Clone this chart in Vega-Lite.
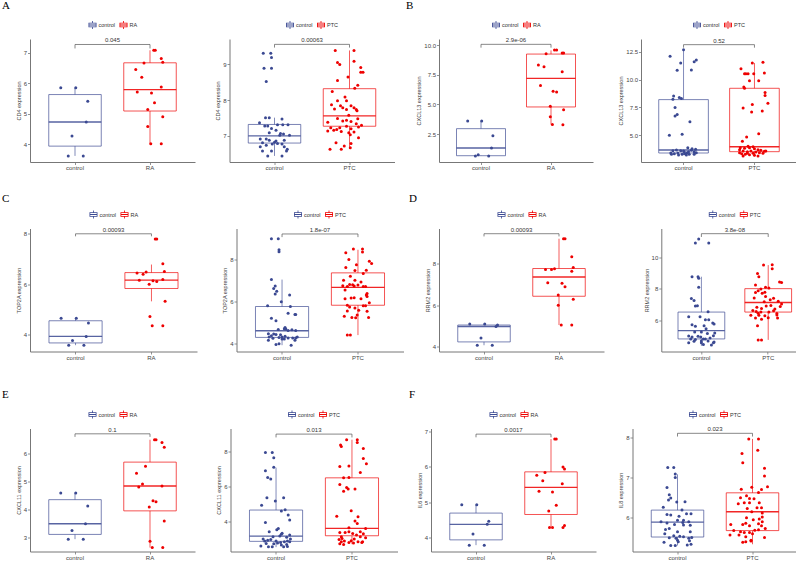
{
"$schema":"https://vega.github.io/schema/vega-lite/v6.json",
"padding":{"left":2,"top":0,"right":0,"bottom":0},
"config":{
 "view":{"stroke":null},
 "font":"Liberation Sans",
 "rule":{"strokeOpacity":0.8},
 "bar":{"strokeOpacity":0.85},
 "axis":{"domainColor":"#777","domainWidth":1,"tickColor":"#777","tickSize":2.5,"tickWidth":0.8,"labelFontSize":6,"labelColor":"#444","titleFontSize":5.5,"titleFontWeight":"normal","titleColor":"#444","grid":false,"labelPadding":1,"titlePadding":2},
 "axisX":{"labelPadding":0},
 "legend":{"title":null,"orient":"none","legendY":-18,"direction":"horizontal","symbolType":"M-1,-0.55H1V0.55H-1Z M-0.8,-0.35V0.35H0.8V-0.35Z M-0.8,-0.1H0.8V0.1H-0.8Z M-0.1,-1H0.1V-0.55H-0.1Z M-0.1,0.55H0.1V1H-0.1Z","symbolSize":64,"symbolStrokeWidth":0,"labelFontSize":5.5,"labelColor":"#333","labelOffset":2,"columnPadding":4,"padding":0},
 "title":{"font":"Liberation Serif","fontSize":11,"fontWeight":"normal","anchor":"start","color":"black","frame":"group","baseline":"bottom"}
},
"datasets":{
"box":[
{"p":"A1","g":"control","lo":3.62,"q1":3.94,"med":4.73,"q3":5.63,"hi":5.85},
{"p":"A1","g":"RA","lo":4.02,"q1":5.09,"med":5.79,"q3":6.67,"hi":7.08},
{"p":"A2","g":"control","lo":6.44,"q1":6.80,"med":7.00,"q3":7.32,"hi":7.51},
{"p":"A2","g":"PTC","lo":6.67,"q1":7.27,"med":7.56,"q3":8.32,"hi":9.39},
{"p":"B1","g":"control","lo":0.65,"q1":0.67,"med":1.32,"q3":2.95,"hi":3.6},
{"p":"B1","g":"RA","lo":3.31,"q1":4.78,"med":7.19,"q3":9.24,"hi":9.55},
{"p":"B2","g":"control","lo":3.22,"q1":3.40,"med":3.67,"q3":8.21,"hi":12.71},
{"p":"B2","g":"PTC","lo":3.10,"q1":3.52,"med":3.97,"q3":9.23,"hi":11.51},
{"p":"C1","g":"control","lo":3.58,"q1":3.67,"med":3.93,"q3":4.55,"hi":4.65},
{"p":"C1","g":"RA","lo":5.32,"q1":5.83,"med":6.16,"q3":6.46,"hi":6.78},
{"p":"C2","g":"control","lo":3.91,"q1":4.28,"med":4.60,"q3":5.75,"hi":7.03},
{"p":"C2","g":"PTC","lo":4.39,"q1":5.81,"med":6.66,"q3":7.35,"hi":8.45},
{"p":"D1","g":"control","lo":4.08,"q1":4.24,"med":4.98,"q3":5.05,"hi":5.10},
{"p":"D1","g":"RA","lo":5.05,"q1":6.43,"med":7.35,"q3":7.76,"hi":9.19},
{"p":"D2","g":"control","lo":4.38,"q1":4.82,"med":5.35,"q3":6.53,"hi":8.78},
{"p":"D2","g":"PTC","lo":4.76,"q1":6.53,"med":7.14,"q3":8.02,"hi":9.52},
{"p":"E1","g":"control","lo":2.95,"q1":3.12,"med":3.50,"q3":4.36,"hi":4.6},
{"p":"E1","g":"RA","lo":2.65,"q1":3.96,"med":4.85,"q3":5.70,"hi":6.5},
{"p":"E2","g":"control","lo":2.55,"q1":2.88,"med":3.18,"q3":4.67,"hi":7.09},
{"p":"E2","g":"PTC","lo":2.72,"q1":3.20,"med":3.62,"q3":6.51,"hi":8.69},
{"p":"F1","g":"control","lo":3.78,"q1":3.93,"med":4.37,"q3":4.69,"hi":4.93},
{"p":"F1","g":"RA","lo":4.28,"q1":4.65,"med":5.42,"q3":5.86,"hi":6.79},
{"p":"F2","g":"control","lo":5.31,"q1":5.52,"med":5.89,"q3":6.19,"hi":7.08},
{"p":"F2","g":"PTC","lo":5.34,"q1":5.68,"med":6.15,"q3":6.62,"hi":7.96}
],
"brk":[
{"p":"A1","g":"control","v":7.14,"o":1},{"p":"A1","g":"control","v":7.27,"o":2},{"p":"A1","g":"RA","v":7.27,"o":3},{"p":"A1","g":"RA","v":7.14,"o":4},
{"p":"A2","g":"control","v":9.47,"o":1},{"p":"A2","g":"control","v":9.56,"o":2},{"p":"A2","g":"PTC","v":9.56,"o":3},{"p":"A2","g":"PTC","v":9.47,"o":4},
{"p":"B1","g":"control","v":9.78,"o":1},{"p":"B1","g":"control","v":10.06,"o":2},{"p":"B1","g":"RA","v":10.06,"o":3},{"p":"B1","g":"RA","v":9.78,"o":4},
{"p":"B2","g":"control","v":12.89,"o":1},{"p":"B2","g":"control","v":13.16,"o":2},{"p":"B2","g":"PTC","v":13.16,"o":3},{"p":"B2","g":"PTC","v":12.89,"o":4},
{"p":"C1","g":"control","v":7.90,"o":1},{"p":"C1","g":"control","v":8.0,"o":2},{"p":"C1","g":"RA","v":8.0,"o":3},{"p":"C1","g":"RA","v":7.90,"o":4},
{"p":"C2","g":"control","v":9.05,"o":1},{"p":"C2","g":"control","v":9.20,"o":2},{"p":"C2","g":"PTC","v":9.20,"o":3},{"p":"C2","g":"PTC","v":9.05,"o":4},
{"p":"D1","g":"control","v":9.30,"o":1},{"p":"D1","g":"control","v":9.43,"o":2},{"p":"D1","g":"RA","v":9.43,"o":3},{"p":"D1","g":"RA","v":9.30,"o":4},
{"p":"D2","g":"control","v":11.31,"o":1},{"p":"D2","g":"control","v":11.52,"o":2},{"p":"D2","g":"PTC","v":11.52,"o":3},{"p":"D2","g":"PTC","v":11.31,"o":4},
{"p":"E1","g":"control","v":6.60,"o":1},{"p":"E1","g":"control","v":6.71,"o":2},{"p":"E1","g":"RA","v":6.71,"o":3},{"p":"E1","g":"RA","v":6.60,"o":4},
{"p":"E2","g":"control","v":8.82,"o":1},{"p":"E2","g":"control","v":9.01,"o":2},{"p":"E2","g":"PTC","v":9.01,"o":3},{"p":"E2","g":"PTC","v":8.82,"o":4},
{"p":"F1","g":"control","v":6.84,"o":1},{"p":"F1","g":"control","v":6.93,"o":2},{"p":"F1","g":"RA","v":6.93,"o":3},{"p":"F1","g":"RA","v":6.84,"o":4},
{"p":"F2","g":"control","v":8.02,"o":1},{"p":"F2","g":"control","v":8.10,"o":2},{"p":"F2","g":"PTC","v":8.10,"o":3},{"p":"F2","g":"PTC","v":8.02,"o":4}
],
"lab":[
{"p":"A1","g":"control","v":7.27,"t":"0.045"},
{"p":"A2","g":"control","v":9.56,"t":"0.00063"},
{"p":"B1","g":"control","v":10.06,"t":"2.9e-06"},
{"p":"B2","g":"control","v":13.16,"t":"0.52"},
{"p":"C1","g":"control","v":8.0,"t":"0.00093"},
{"p":"C2","g":"control","v":9.20,"t":"1.8e-07"},
{"p":"D1","g":"control","v":9.43,"t":"0.00093"},
{"p":"D2","g":"control","v":11.52,"t":"3.8e-08"},
{"p":"E1","g":"control","v":6.71,"t":"0.1"},
{"p":"E2","g":"control","v":9.01,"t":"0.013"},
{"p":"F1","g":"control","v":6.93,"t":"0.0017"},
{"p":"F2","g":"control","v":8.10,"t":"0.023"}
],
"A1":[
{"g":"control","v":5.85,"j":-0.19},{"g":"control","v":5.85,"j":0.01},{"g":"control","v":5.41,"j":0.17},{"g":"control","v":4.73,"j":0.15},{"g":"control","v":4.27,"j":-0.04},{"g":"control","v":3.62,"j":-0.09},{"g":"control","v":3.62,"j":0.11},
{"g":"RA","v":7.08,"j":0.05},{"g":"RA","v":7.08,"j":0.07},{"g":"RA","v":6.81,"j":0.15},{"g":"RA","v":6.69,"j":0.17},{"g":"RA","v":6.66,"j":-0.08},{"g":"RA","v":6.45,"j":-0.19},{"g":"RA","v":6.20,"j":-0.11},{"g":"RA","v":5.88,"j":0.15},{"g":"RA","v":5.71,"j":-0.17},{"g":"RA","v":5.68,"j":0.02},{"g":"RA","v":5.36,"j":0.06},{"g":"RA","v":5.14,"j":-0.03},{"g":"RA","v":4.90,"j":0.17},{"g":"RA","v":4.58,"j":-0.03},{"g":"RA","v":4.02,"j":0.01},{"g":"RA","v":4.02,"j":0.15}
],
"A2":[
{"g":"control","v":9.31,"j":-0.15},{"g":"control","v":9.31,"j":-0.05},{"g":"control","v":9.19,"j":-0.04},{"g":"control","v":8.89,"j":-0.14},{"g":"control","v":8.89,"j":-0.04},{"g":"control","v":8.52,"j":-0.11},{"g":"control","v":7.51,"j":-0.12},{"g":"control","v":7.51,"j":-0.07},{"g":"control","v":7.47,"j":0.10},{"g":"control","v":7.37,"j":-0.20},{"g":"control","v":7.28,"j":-0.13},{"g":"control","v":7.28,"j":-0.09},{"g":"control","v":7.31,"j":0.04},{"g":"control","v":7.31,"j":0.11},{"g":"control","v":7.31,"j":0.18},{"g":"control","v":7.21,"j":-0.04},{"g":"control","v":7.16,"j":0.02},{"g":"control","v":7.09,"j":-0.07},{"g":"control","v":7.07,"j":0.08},{"g":"control","v":7.02,"j":0.07},{"g":"control","v":7.02,"j":0.20},{"g":"control","v":6.91,"j":-0.19},{"g":"control","v":6.91,"j":-0.11},{"g":"control","v":6.88,"j":-0.07},{"g":"control","v":6.88,"j":0.13},{"g":"control","v":6.81,"j":-0.16},{"g":"control","v":6.82,"j":0.0},{"g":"control","v":6.79,"j":0.04},{"g":"control","v":6.77,"j":-0.03},{"g":"control","v":6.77,"j":0.10},{"g":"control","v":6.74,"j":-0.11},{"g":"control","v":6.70,"j":0.13},{"g":"control","v":6.70,"j":-0.19},{"g":"control","v":6.63,"j":0.17},{"g":"control","v":6.58,"j":0.16},{"g":"control","v":6.58,"j":-0.04},{"g":"control","v":6.58,"j":-0.16},{"g":"control","v":6.44,"j":0.10},{"g":"control","v":6.44,"j":-0.09},{"g":"control","v":6.86,"j":0.02},{"g":"control","v":7.05,"j":0.12},
{"g":"PTC","v":9.39,"j":-0.19},{"g":"PTC","v":9.39,"j":0.06},{"g":"PTC","v":9.05,"j":-0.16},{"g":"PTC","v":9.0,"j":-0.13},{"g":"PTC","v":9.09,"j":0.06},{"g":"PTC","v":8.91,"j":0.15},{"g":"PTC","v":8.78,"j":0.18},{"g":"PTC","v":8.78,"j":0.15},{"g":"PTC","v":8.65,"j":-0.02},{"g":"PTC","v":8.55,"j":-0.16},{"g":"PTC","v":8.42,"j":0.11},{"g":"PTC","v":8.33,"j":0.07},{"g":"PTC","v":8.24,"j":-0.23},{"g":"PTC","v":8.09,"j":-0.06},{"g":"PTC","v":7.98,"j":-0.16},{"g":"PTC","v":7.98,"j":-0.04},{"g":"PTC","v":7.87,"j":-0.24},{"g":"PTC","v":7.84,"j":-0.12},{"g":"PTC","v":7.84,"j":0.02},{"g":"PTC","v":7.79,"j":0.06},{"g":"PTC","v":7.74,"j":0.09},{"g":"PTC","v":7.75,"j":-0.2},{"g":"PTC","v":7.74,"j":-0.04},{"g":"PTC","v":7.79,"j":-0.09},{"g":"PTC","v":7.70,"j":0.10},{"g":"PTC","v":7.58,"j":-0.01},{"g":"PTC","v":7.49,"j":-0.16},{"g":"PTC","v":7.48,"j":0.11},{"g":"PTC","v":7.44,"j":-0.04},{"g":"PTC","v":7.42,"j":-0.09},{"g":"PTC","v":7.38,"j":-0.29},{"g":"PTC","v":7.40,"j":0.02},{"g":"PTC","v":7.34,"j":0.09},{"g":"PTC","v":7.25,"j":0.12},{"g":"PTC","v":7.30,"j":0.16},{"g":"PTC","v":7.23,"j":-0.25},{"g":"PTC","v":7.23,"j":-0.13},{"g":"PTC","v":7.27,"j":-0.04},{"g":"PTC","v":7.18,"j":-0.17},{"g":"PTC","v":7.12,"j":-0.11},{"g":"PTC","v":7.20,"j":0.02},{"g":"PTC","v":7.11,"j":0.06},{"g":"PTC","v":7.16,"j":-0.21},{"g":"PTC","v":7.14,"j":-0.29},{"g":"PTC","v":7.09,"j":-0.01},{"g":"PTC","v":7.03,"j":0.01},{"g":"PTC","v":6.81,"j":-0.18},{"g":"PTC","v":6.72,"j":-0.07},{"g":"PTC","v":6.79,"j":0.02},{"g":"PTC","v":6.95,"j":0.12},{"g":"PTC","v":6.63,"j":-0.26},{"g":"PTC","v":6.63,"j":-0.11},{"g":"PTC","v":6.67,"j":0.01}
],
"B1":[
{"g":"control","v":3.6,"j":-0.19},{"g":"control","v":3.6,"j":0.01},{"g":"control","v":2.36,"j":0.17},{"g":"control","v":1.32,"j":0.15},{"g":"control","v":0.76,"j":-0.04},{"g":"control","v":0.65,"j":-0.08},{"g":"control","v":0.65,"j":0.11},
{"g":"RA","v":9.58,"j":0.05},{"g":"RA","v":9.58,"j":0.08},{"g":"RA","v":9.33,"j":0.16},{"g":"RA","v":9.33,"j":0.18},{"g":"RA","v":9.27,"j":-0.07},{"g":"RA","v":8.31,"j":-0.18},{"g":"RA","v":8.17,"j":-0.10},{"g":"RA","v":7.75,"j":0.16},{"g":"RA","v":6.6,"j":-0.15},{"g":"RA","v":6.1,"j":0.03},{"g":"RA","v":6.04,"j":0.08},{"g":"RA","v":4.83,"j":-0.01},{"g":"RA","v":4.55,"j":0.18},{"g":"RA","v":3.96,"j":-0.01},{"g":"RA","v":3.31,"j":0.02},{"g":"RA","v":3.29,"j":0.17}
],
"B2":[
{"g":"control","v":12.71,"j":0.0},{"g":"control","v":12.11,"j":-0.19},{"g":"control","v":11.78,"j":0.18},{"g":"control","v":11.63,"j":0.15},{"g":"control","v":11.51,"j":-0.04},{"g":"control","v":10.85,"j":-0.09},{"g":"control","v":10.88,"j":0.11},{"g":"control","v":8.54,"j":-0.14},{"g":"control","v":8.24,"j":-0.15},{"g":"control","v":8.39,"j":-0.06},{"g":"control","v":8.30,"j":-0.03},{"g":"control","v":7.49,"j":-0.12},{"g":"control","v":6.88,"j":-0.09},{"g":"control","v":6.73,"j":-0.12},{"g":"control","v":6.22,"j":0.09},{"g":"control","v":5.0,"j":-0.2},{"g":"control","v":5.08,"j":-0.02},{"g":"control","v":3.88,"j":0.06},{"g":"control","v":3.67,"j":-0.10},{"g":"control","v":3.52,"j":0.01},{"g":"control","v":3.79,"j":0.12},{"g":"control","v":3.73,"j":0.17},{"g":"control","v":3.40,"j":-0.18},{"g":"control","v":3.34,"j":-0.13},{"g":"control","v":3.40,"j":-0.08},{"g":"control","v":3.28,"j":-0.02},{"g":"control","v":3.34,"j":0.02},{"g":"control","v":3.43,"j":0.05},{"g":"control","v":3.28,"j":0.08},{"g":"control","v":3.28,"j":0.15},{"g":"control","v":3.43,"j":0.18},{"g":"control","v":3.61,"j":-0.15},{"g":"control","v":3.61,"j":-0.04},{"g":"control","v":3.52,"j":0.07},{"g":"control","v":3.64,"j":0.11},{"g":"control","v":3.28,"j":-0.17},{"g":"control","v":3.22,"j":0.04},{"g":"control","v":3.22,"j":-0.07},{"g":"control","v":3.58,"j":0.0},{"g":"control","v":3.52,"j":0.15},
{"g":"PTC","v":11.51,"j":-0.03},{"g":"PTC","v":11.57,"j":0.12},{"g":"PTC","v":11.0,"j":-0.19},{"g":"PTC","v":10.55,"j":-0.14},{"g":"PTC","v":10.55,"j":-0.12},{"g":"PTC","v":10.55,"j":-0.09},{"g":"PTC","v":10.55,"j":-0.01},{"g":"PTC","v":10.61,"j":0.14},{"g":"PTC","v":9.9,"j":-0.07},{"g":"PTC","v":9.9,"j":0.06},{"g":"PTC","v":9.35,"j":-0.15},{"g":"PTC","v":9.23,"j":-0.14},{"g":"PTC","v":8.84,"j":0.15},{"g":"PTC","v":8.57,"j":0.15},{"g":"PTC","v":7.88,"j":0.19},{"g":"PTC","v":7.76,"j":-0.03},{"g":"PTC","v":7.46,"j":-0.16},{"g":"PTC","v":7.10,"j":-0.04},{"g":"PTC","v":7.19,"j":0.11},{"g":"PTC","v":5.14,"j":0.06},{"g":"PTC","v":4.84,"j":-0.11},{"g":"PTC","v":4.45,"j":-0.17},{"g":"PTC","v":4.0,"j":-0.09},{"g":"PTC","v":3.97,"j":-0.02},{"g":"PTC","v":3.88,"j":-0.2},{"g":"PTC","v":3.88,"j":-0.07},{"g":"PTC","v":3.82,"j":-0.14},{"g":"PTC","v":3.79,"j":0.0},{"g":"PTC","v":3.70,"j":-0.21},{"g":"PTC","v":3.70,"j":0.05},{"g":"PTC","v":3.64,"j":0.09},{"g":"PTC","v":3.55,"j":0.14},{"g":"PTC","v":3.58,"j":-0.16},{"g":"PTC","v":3.52,"j":-0.10},{"g":"PTC","v":3.58,"j":-0.05},{"g":"PTC","v":3.49,"j":0.02},{"g":"PTC","v":3.43,"j":0.07},{"g":"PTC","v":3.37,"j":0.12},{"g":"PTC","v":3.34,"j":-0.18},{"g":"PTC","v":3.28,"j":-0.13},{"g":"PTC","v":3.25,"j":-0.07},{"g":"PTC","v":3.19,"j":0.0},{"g":"PTC","v":3.13,"j":-0.16},{"g":"PTC","v":3.13,"j":0.05},{"g":"PTC","v":3.37,"j":-0.10},{"g":"PTC","v":3.37,"j":-0.02},{"g":"PTC","v":3.43,"j":-0.21},{"g":"PTC","v":3.58,"j":0.16}
],
"C1":[
{"g":"control","v":4.65,"j":-0.19},{"g":"control","v":4.65,"j":0.01},{"g":"control","v":4.46,"j":0.17},{"g":"control","v":3.93,"j":0.14},{"g":"control","v":3.77,"j":-0.04},{"g":"control","v":3.58,"j":-0.09},{"g":"control","v":3.58,"j":0.11},
{"g":"RA","v":7.79,"j":0.05},{"g":"RA","v":7.79,"j":0.07},{"g":"RA","v":6.81,"j":0.15},{"g":"RA","v":6.50,"j":0.17},{"g":"RA","v":6.44,"j":-0.19},{"g":"RA","v":6.48,"j":-0.07},{"g":"RA","v":6.39,"j":-0.11},{"g":"RA","v":6.16,"j":-0.16},{"g":"RA","v":6.19,"j":0.15},{"g":"RA","v":6.14,"j":0.02},{"g":"RA","v":6.11,"j":0.07},{"g":"RA","v":6.0,"j":-0.03},{"g":"RA","v":5.32,"j":0.18},{"g":"RA","v":4.72,"j":-0.02},{"g":"RA","v":4.35,"j":0.01},{"g":"RA","v":4.35,"j":0.15}
],
"C2":[
{"g":"control","v":8.97,"j":-0.14},{"g":"control","v":8.97,"j":-0.05},{"g":"control","v":8.45,"j":-0.04},{"g":"control","v":8.36,"j":-0.04},{"g":"control","v":7.03,"j":-0.14},{"g":"control","v":6.72,"j":-0.09},{"g":"control","v":6.61,"j":-0.11},{"g":"control","v":6.47,"j":-0.07},{"g":"control","v":6.34,"j":-0.09},{"g":"control","v":6.30,"j":0.10},{"g":"control","v":5.98,"j":-0.01},{"g":"control","v":5.79,"j":-0.19},{"g":"control","v":5.75,"j":0.11},{"g":"control","v":5.43,"j":0.08},{"g":"control","v":5.37,"j":0.17},{"g":"control","v":5.37,"j":0.18},{"g":"control","v":5.19,"j":-0.14},{"g":"control","v":5.07,"j":-0.08},{"g":"control","v":4.75,"j":0.04},{"g":"control","v":4.69,"j":0.03},{"g":"control","v":4.68,"j":0.05},{"g":"control","v":4.66,"j":-0.05},{"g":"control","v":4.61,"j":0.08},{"g":"control","v":4.64,"j":0.13},{"g":"control","v":4.61,"j":0.18},{"g":"control","v":4.46,"j":-0.18},{"g":"control","v":4.44,"j":-0.11},{"g":"control","v":4.42,"j":-0.08},{"g":"control","v":4.41,"j":-0.02},{"g":"control","v":4.36,"j":-0.14},{"g":"control","v":4.30,"j":-0.17},{"g":"control","v":4.33,"j":0.04},{"g":"control","v":4.30,"j":0.0},{"g":"control","v":4.27,"j":-0.04},{"g":"control","v":4.25,"j":0.08},{"g":"control","v":4.25,"j":0.14},{"g":"control","v":4.30,"j":0.20},{"g":"control","v":4.24,"j":-0.12},{"g":"control","v":4.20,"j":0.03},{"g":"control","v":4.14,"j":0.17},{"g":"control","v":4.25,"j":0.18},{"g":"control","v":4.14,"j":-0.18},{"g":"control","v":3.94,"j":-0.08},{"g":"control","v":3.98,"j":-0.04},{"g":"control","v":3.91,"j":0.12},{"g":"control","v":4.2,"j":0.0},
{"g":"PTC","v":8.48,"j":-0.06},{"g":"PTC","v":8.48,"j":0.06},{"g":"PTC","v":8.31,"j":-0.16},{"g":"PTC","v":8.34,"j":0.06},{"g":"PTC","v":7.98,"j":-0.12},{"g":"PTC","v":7.90,"j":0.15},{"g":"PTC","v":7.79,"j":0.18},{"g":"PTC","v":7.73,"j":-0.02},{"g":"PTC","v":7.60,"j":-0.16},{"g":"PTC","v":7.46,"j":-0.04},{"g":"PTC","v":7.47,"j":0.11},{"g":"PTC","v":7.32,"j":0.07},{"g":"PTC","v":7.19,"j":-0.10},{"g":"PTC","v":7.0,"j":-0.04},{"g":"PTC","v":6.92,"j":0.04},{"g":"PTC","v":7.0,"j":-0.19},{"g":"PTC","v":6.74,"j":-0.20},{"g":"PTC","v":6.80,"j":-0.11},{"g":"PTC","v":6.70,"j":-0.14},{"g":"PTC","v":6.78,"j":-0.07},{"g":"PTC","v":6.77,"j":0.0},{"g":"PTC","v":6.70,"j":0.07},{"g":"PTC","v":6.70,"j":0.10},{"g":"PTC","v":6.72,"j":-0.05},{"g":"PTC","v":6.37,"j":0.12},{"g":"PTC","v":6.30,"j":0.11},{"g":"PTC","v":6.22,"j":0.12},{"g":"PTC","v":6.53,"j":-0.17},{"g":"PTC","v":6.12,"j":-0.17},{"g":"PTC","v":6.15,"j":-0.09},{"g":"PTC","v":6.17,"j":-0.05},{"g":"PTC","v":6.12,"j":0.04},{"g":"PTC","v":5.93,"j":0.15},{"g":"PTC","v":5.81,"j":-0.14},{"g":"PTC","v":5.73,"j":-0.11},{"g":"PTC","v":5.78,"j":0.10},{"g":"PTC","v":5.68,"j":-0.04},{"g":"PTC","v":5.54,"j":-0.14},{"g":"PTC","v":5.57,"j":0.01},{"g":"PTC","v":5.53,"j":0.12},{"g":"PTC","v":5.35,"j":-0.01},{"g":"PTC","v":5.21,"j":-0.03},{"g":"PTC","v":5.29,"j":-0.18},{"g":"PTC","v":5.23,"j":-0.08},{"g":"PTC","v":5.23,"j":0.14},{"g":"PTC","v":5.78,"j":0.07},{"g":"PTC","v":4.39,"j":-0.14},{"g":"PTC","v":4.39,"j":-0.10}
],
"D1":[
{"g":"control","v":5.10,"j":-0.19},{"g":"control","v":5.10,"j":0.01},{"g":"control","v":5.05,"j":0.18},{"g":"control","v":4.98,"j":0.16},{"g":"control","v":4.43,"j":-0.04},{"g":"control","v":4.08,"j":-0.09},{"g":"control","v":4.08,"j":0.11},
{"g":"RA","v":9.19,"j":0.06},{"g":"RA","v":9.19,"j":0.08},{"g":"RA","v":8.32,"j":0.17},{"g":"RA","v":7.63,"j":0.17},{"g":"RA","v":7.81,"j":0.19},{"g":"RA","v":7.71,"j":-0.18},{"g":"RA","v":7.71,"j":-0.10},{"g":"RA","v":7.75,"j":-0.06},{"g":"RA","v":7.08,"j":-0.15},{"g":"RA","v":7.05,"j":0.04},{"g":"RA","v":6.89,"j":0.08},{"g":"RA","v":6.49,"j":-0.01},{"g":"RA","v":6.29,"j":0.19},{"g":"RA","v":6.0,"j":-0.01},{"g":"RA","v":5.05,"j":0.03},{"g":"RA","v":5.05,"j":0.17}
],
"D2":[
{"g":"control","v":11.18,"j":-0.04},{"g":"control","v":10.93,"j":-0.09},{"g":"control","v":10.93,"j":0.11},{"g":"control","v":8.78,"j":-0.14},{"g":"control","v":8.78,"j":-0.05},{"g":"control","v":8.69,"j":-0.04},{"g":"control","v":8.11,"j":-0.04},{"g":"control","v":7.39,"j":-0.15},{"g":"control","v":7.26,"j":-0.11},{"g":"control","v":6.91,"j":-0.09},{"g":"control","v":6.93,"j":-0.06},{"g":"control","v":6.55,"j":0.10},{"g":"control","v":6.23,"j":-0.19},{"g":"control","v":6.23,"j":-0.02},{"g":"control","v":6.04,"j":0.11},{"g":"control","v":6.04,"j":0.06},{"g":"control","v":5.83,"j":0.17},{"g":"control","v":5.77,"j":0.19},{"g":"control","v":5.73,"j":-0.14},{"g":"control","v":5.62,"j":-0.09},{"g":"control","v":5.66,"j":0.04},{"g":"control","v":5.47,"j":0.07},{"g":"control","v":5.26,"j":-0.10},{"g":"control","v":5.26,"j":0.0},{"g":"control","v":5.20,"j":0.20},{"g":"control","v":5.16,"j":0.09},{"g":"control","v":5.01,"j":-0.19},{"g":"control","v":4.95,"j":-0.14},{"g":"control","v":4.99,"j":-0.05},{"g":"control","v":4.95,"j":-0.01},{"g":"control","v":5.03,"j":0.18},{"g":"control","v":4.88,"j":0.13},{"g":"control","v":4.82,"j":0.03},{"g":"control","v":4.78,"j":-0.09},{"g":"control","v":4.82,"j":-0.16},{"g":"control","v":4.57,"j":-0.19},{"g":"control","v":4.69,"j":0.0},{"g":"control","v":4.69,"j":0.10},{"g":"control","v":4.63,"j":0.19},{"g":"control","v":4.57,"j":0.0},{"g":"control","v":4.46,"j":0.03},{"g":"control","v":4.44,"j":0.15},{"g":"control","v":4.57,"j":0.18},{"g":"control","v":4.82,"j":0.06},{"g":"control","v":4.67,"j":-0.11},
{"g":"PTC","v":9.52,"j":-0.07},{"g":"PTC","v":9.54,"j":0.06},{"g":"PTC","v":9.28,"j":0.06},{"g":"PTC","v":8.99,"j":-0.16},{"g":"PTC","v":8.78,"j":-0.14},{"g":"PTC","v":8.44,"j":0.17},{"g":"PTC","v":8.42,"j":0.20},{"g":"PTC","v":8.25,"j":-0.19},{"g":"PTC","v":8.11,"j":-0.04},{"g":"PTC","v":8.06,"j":0.01},{"g":"PTC","v":8.0,"j":-0.11},{"g":"PTC","v":7.89,"j":-0.15},{"g":"PTC","v":7.79,"j":-0.05},{"g":"PTC","v":7.77,"j":-0.19},{"g":"PTC","v":7.73,"j":-0.09},{"g":"PTC","v":7.43,"j":-0.21},{"g":"PTC","v":7.52,"j":-0.04},{"g":"PTC","v":7.41,"j":0.08},{"g":"PTC","v":7.31,"j":0.03},{"g":"PTC","v":7.22,"j":0.15},{"g":"PTC","v":7.18,"j":-0.06},{"g":"PTC","v":7.05,"j":0.20},{"g":"PTC","v":6.84,"j":-0.17},{"g":"PTC","v":6.76,"j":-0.10},{"g":"PTC","v":6.91,"j":-0.03},{"g":"PTC","v":6.95,"j":0.04},{"g":"PTC","v":6.72,"j":0.10},{"g":"PTC","v":6.57,"j":-0.18},{"g":"PTC","v":6.53,"j":-0.11},{"g":"PTC","v":6.53,"j":0.01},{"g":"PTC","v":6.46,"j":-0.15},{"g":"PTC","v":6.44,"j":0.13},{"g":"PTC","v":6.32,"j":-0.26},{"g":"PTC","v":6.32,"j":-0.14},{"g":"PTC","v":6.29,"j":-0.05},{"g":"PTC","v":6.34,"j":0.13},{"g":"PTC","v":6.17,"j":0.0},{"g":"PTC","v":6.08,"j":-0.10},{"g":"PTC","v":6.15,"j":-0.19},{"g":"PTC","v":6.15,"j":0.14},{"g":"PTC","v":5.66,"j":-0.16},{"g":"PTC","v":4.76,"j":-0.15},{"g":"PTC","v":4.76,"j":-0.10},{"g":"PTC","v":6.63,"j":-0.23},{"g":"PTC","v":6.61,"j":0.08},{"g":"PTC","v":6.88,"j":0.18}
],
"E1":[
{"g":"control","v":4.6,"j":-0.19},{"g":"control","v":4.6,"j":0.01},{"g":"control","v":4.13,"j":0.17},{"g":"control","v":3.5,"j":0.14},{"g":"control","v":3.26,"j":-0.04},{"g":"control","v":2.95,"j":-0.09},{"g":"control","v":2.95,"j":0.11},
{"g":"RA","v":6.5,"j":0.06},{"g":"RA","v":6.5,"j":0.08},{"g":"RA","v":6.40,"j":0.16},{"g":"RA","v":6.23,"j":0.19},{"g":"RA","v":5.55,"j":-0.06},{"g":"RA","v":5.30,"j":-0.18},{"g":"RA","v":4.81,"j":-0.15},{"g":"RA","v":4.92,"j":-0.10},{"g":"RA","v":4.85,"j":0.16},{"g":"RA","v":4.32,"j":0.04},{"g":"RA","v":4.29,"j":0.08},{"g":"RA","v":4.10,"j":-0.01},{"g":"RA","v":3.60,"j":0.19},{"g":"RA","v":2.88,"j":0.0},{"g":"RA","v":2.65,"j":0.03},{"g":"RA","v":2.65,"j":0.17}
],
"E2":[
{"g":"control","v":7.96,"j":-0.14},{"g":"control","v":7.96,"j":-0.05},{"g":"control","v":7.66,"j":-0.03},{"g":"control","v":7.12,"j":-0.03},{"g":"control","v":6.91,"j":-0.14},{"g":"control","v":6.53,"j":-0.11},{"g":"control","v":6.44,"j":-0.07},{"g":"control","v":5.37,"j":-0.12},{"g":"control","v":5.37,"j":0.10},{"g":"control","v":5.18,"j":-0.01},{"g":"control","v":4.95,"j":-0.19},{"g":"control","v":4.61,"j":0.07},{"g":"control","v":4.69,"j":0.12},{"g":"control","v":4.38,"j":0.16},{"g":"control","v":4.10,"j":0.18},{"g":"control","v":3.96,"j":-0.14},{"g":"control","v":3.62,"j":0.03},{"g":"control","v":3.54,"j":0.01},{"g":"control","v":3.43,"j":-0.09},{"g":"control","v":3.35,"j":0.08},{"g":"control","v":3.28,"j":0.07},{"g":"control","v":3.18,"j":0.05},{"g":"control","v":3.14,"j":-0.04},{"g":"control","v":3.24,"j":0.18},{"g":"control","v":3.12,"j":0.14},{"g":"control","v":3.01,"j":0.19},{"g":"control","v":2.90,"j":0.15},{"g":"control","v":3.01,"j":-0.17},{"g":"control","v":2.95,"j":-0.11},{"g":"control","v":2.99,"j":-0.07},{"g":"control","v":2.90,"j":-0.15},{"g":"control","v":2.90,"j":0.0},{"g":"control","v":2.82,"j":0.06},{"g":"control","v":2.86,"j":0.11},{"g":"control","v":2.74,"j":-0.03},{"g":"control","v":2.78,"j":0.02},{"g":"control","v":2.70,"j":0.14},{"g":"control","v":2.62,"j":-0.20},{"g":"control","v":2.57,"j":-0.10},{"g":"control","v":2.57,"j":-0.05},{"g":"control","v":2.57,"j":0.10},{"g":"control","v":2.59,"j":0.15},{"g":"control","v":2.67,"j":0.07},{"g":"control","v":2.76,"j":-0.13},{"g":"control","v":2.86,"j":0.18},
{"g":"PTC","v":8.69,"j":-0.07},{"g":"PTC","v":8.69,"j":0.07},{"g":"PTC","v":8.53,"j":0.07},{"g":"PTC","v":8.38,"j":-0.15},{"g":"PTC","v":8.30,"j":-0.14},{"g":"PTC","v":8.19,"j":0.15},{"g":"PTC","v":7.62,"j":0.15},{"g":"PTC","v":7.31,"j":0.19},{"g":"PTC","v":7.16,"j":-0.16},{"g":"PTC","v":7.18,"j":-0.04},{"g":"PTC","v":6.82,"j":0.11},{"g":"PTC","v":6.51,"j":-0.11},{"g":"PTC","v":6.53,"j":-0.04},{"g":"PTC","v":6.13,"j":-0.16},{"g":"PTC","v":5.96,"j":-0.07},{"g":"PTC","v":5.87,"j":-0.05},{"g":"PTC","v":5.87,"j":0.04},{"g":"PTC","v":5.75,"j":-0.11},{"g":"PTC","v":4.63,"j":-0.01},{"g":"PTC","v":4.32,"j":-0.20},{"g":"PTC","v":4.29,"j":0.08},{"g":"PTC","v":4.04,"j":0.04},{"g":"PTC","v":3.90,"j":0.07},{"g":"PTC","v":3.66,"j":-0.04},{"g":"PTC","v":3.62,"j":0.18},{"g":"PTC","v":3.39,"j":-0.16},{"g":"PTC","v":3.39,"j":-0.09},{"g":"PTC","v":3.43,"j":-0.04},{"g":"PTC","v":3.33,"j":0.01},{"g":"PTC","v":3.43,"j":0.11},{"g":"PTC","v":3.31,"j":0.15},{"g":"PTC","v":3.24,"j":0.06},{"g":"PTC","v":3.14,"j":0.11},{"g":"PTC","v":3.09,"j":0.18},{"g":"PTC","v":3.05,"j":-0.13},{"g":"PTC","v":2.99,"j":-0.17},{"g":"PTC","v":2.90,"j":-0.10},{"g":"PTC","v":2.91,"j":-0.01},{"g":"PTC","v":3.01,"j":0.03},{"g":"PTC","v":2.86,"j":-0.14},{"g":"PTC","v":2.74,"j":-0.16},{"g":"PTC","v":2.82,"j":-0.04},{"g":"PTC","v":2.78,"j":0.02},{"g":"PTC","v":2.86,"j":0.08},{"g":"PTC","v":2.86,"j":0.14},{"g":"PTC","v":2.70,"j":-0.11},{"g":"PTC","v":2.82,"j":0.13},{"g":"PTC","v":3.14,"j":-0.14}
],
"F1":[
{"g":"control","v":4.93,"j":-0.19},{"g":"control","v":4.93,"j":0.01},{"g":"control","v":4.46,"j":0.17},{"g":"control","v":4.37,"j":0.15},{"g":"control","v":4.10,"j":-0.04},{"g":"control","v":3.78,"j":-0.09},{"g":"control","v":3.78,"j":0.11},
{"g":"RA","v":6.79,"j":0.05},{"g":"RA","v":6.79,"j":0.07},{"g":"RA","v":6.0,"j":0.16},{"g":"RA","v":5.94,"j":0.18},{"g":"RA","v":5.76,"j":-0.19},{"g":"RA","v":5.84,"j":-0.08},{"g":"RA","v":5.61,"j":-0.11},{"g":"RA","v":5.52,"j":0.15},{"g":"RA","v":5.31,"j":-0.16},{"g":"RA","v":5.29,"j":0.02},{"g":"RA","v":4.91,"j":0.07},{"g":"RA","v":4.75,"j":-0.03},{"g":"RA","v":4.28,"j":-0.02},{"g":"RA","v":4.28,"j":0.02},{"g":"RA","v":4.28,"j":0.16},{"g":"RA","v":4.34,"j":0.18}
],
"F2":[
{"g":"control","v":7.25,"j":-0.13},{"g":"control","v":7.25,"j":-0.05},{"g":"control","v":7.09,"j":-0.03},{"g":"control","v":7.0,"j":-0.03},{"g":"control","v":6.75,"j":-0.14},{"g":"control","v":6.57,"j":-0.11},{"g":"control","v":6.49,"j":-0.09},{"g":"control","v":6.44,"j":-0.12},{"g":"control","v":6.39,"j":-0.01},{"g":"control","v":6.40,"j":0.10},{"g":"control","v":6.26,"j":-0.19},{"g":"control","v":6.19,"j":0.06},{"g":"control","v":6.10,"j":0.12},{"g":"control","v":6.10,"j":0.18},{"g":"control","v":6.08,"j":-0.14},{"g":"control","v":6.07,"j":-0.09},{"g":"control","v":6.04,"j":0.02},{"g":"control","v":5.94,"j":0.0},{"g":"control","v":5.94,"j":0.08},{"g":"control","v":5.90,"j":0.15},{"g":"control","v":5.88,"j":0.07},{"g":"control","v":5.90,"j":-0.22},{"g":"control","v":5.81,"j":0.17},{"g":"control","v":5.82,"j":0.08},{"g":"control","v":5.83,"j":-0.04},{"g":"control","v":5.73,"j":-0.11},{"g":"control","v":5.71,"j":-0.16},{"g":"control","v":5.65,"j":0.17},{"g":"control","v":5.65,"j":0.0},{"g":"control","v":5.60,"j":-0.17},{"g":"control","v":5.54,"j":0.03},{"g":"control","v":5.55,"j":-0.05},{"g":"control","v":5.53,"j":0.08},{"g":"control","v":5.49,"j":-0.02},{"g":"control","v":5.49,"j":0.15},{"g":"control","v":5.51,"j":0.19},{"g":"control","v":5.50,"j":-0.11},{"g":"control","v":5.44,"j":0.0},{"g":"control","v":5.40,"j":0.01},{"g":"control","v":5.43,"j":0.16},{"g":"control","v":5.39,"j":-0.18},{"g":"control","v":5.34,"j":0.18},{"g":"control","v":5.31,"j":-0.03},{"g":"control","v":5.32,"j":0.13},{"g":"control","v":5.31,"j":-0.09},{"g":"control","v":5.87,"j":-0.14},
{"g":"PTC","v":7.96,"j":-0.05},{"g":"PTC","v":7.96,"j":0.08},{"g":"PTC","v":7.68,"j":0.07},{"g":"PTC","v":7.60,"j":-0.14},{"g":"PTC","v":7.37,"j":-0.13},{"g":"PTC","v":7.23,"j":0.16},{"g":"PTC","v":7.04,"j":0.16},{"g":"PTC","v":6.77,"j":0.20},{"g":"PTC","v":6.76,"j":-0.01},{"g":"PTC","v":6.70,"j":0.12},{"g":"PTC","v":6.71,"j":-0.15},{"g":"PTC","v":6.63,"j":0.08},{"g":"PTC","v":6.55,"j":-0.08},{"g":"PTC","v":6.50,"j":-0.16},{"g":"PTC","v":6.48,"j":-0.04},{"g":"PTC","v":6.47,"j":0.02},{"g":"PTC","v":6.35,"j":-0.19},{"g":"PTC","v":6.37,"j":-0.11},{"g":"PTC","v":6.37,"j":-0.04},{"g":"PTC","v":6.37,"j":0.09},{"g":"PTC","v":6.25,"j":0.06},{"g":"PTC","v":6.25,"j":0.12},{"g":"PTC","v":6.23,"j":-0.07},{"g":"PTC","v":6.15,"j":-0.01},{"g":"PTC","v":6.12,"j":0.13},{"g":"PTC","v":6.02,"j":0.13},{"g":"PTC","v":6.0,"j":-0.08},{"g":"PTC","v":5.97,"j":0.09},{"g":"PTC","v":5.95,"j":0.01},{"g":"PTC","v":5.90,"j":0.13},{"g":"PTC","v":5.85,"j":0.08},{"g":"PTC","v":5.83,"j":-0.13},{"g":"PTC","v":5.83,"j":-0.29},{"g":"PTC","v":5.86,"j":-0.09},{"g":"PTC","v":5.80,"j":-0.04},{"g":"PTC","v":5.80,"j":0.12},{"g":"PTC","v":5.73,"j":0.17},{"g":"PTC","v":5.70,"j":0.08},{"g":"PTC","v":5.69,"j":0.03},{"g":"PTC","v":5.68,"j":-0.25},{"g":"PTC","v":5.65,"j":-0.16},{"g":"PTC","v":5.63,"j":-0.04},{"g":"PTC","v":5.63,"j":-0.11},{"g":"PTC","v":5.60,"j":0.0},{"g":"PTC","v":5.57,"j":-0.18},{"g":"PTC","v":5.57,"j":-0.30},{"g":"PTC","v":5.51,"j":0.16},{"g":"PTC","v":5.53,"j":-0.09},{"g":"PTC","v":5.44,"j":-0.02},{"g":"PTC","v":5.39,"j":-0.13},{"g":"PTC","v":5.40,"j":-0.09},{"g":"PTC","v":5.42,"j":-0.02}
]
},
"vconcat":[
{"vconcat":[
 {"hconcat":[
  {"title":{"text":"A","dx":-28,"offset":10},"hconcat":[
   {"width":165,"height":123,"resolve":{"scale":{"xOffset":"independent"}},"layer":[
    {"data":{"name":"box"},"transform":[{"filter":"datum.p=='A1'"}],"mark":{"type":"rule","strokeWidth":0.8},"encoding":{"x":{"field":"g","type":"nominal","scale":{"type":"band","domain":["control","RA"],"paddingInner":0,"paddingOuter":0.1},"axis":{"title":null,"labelAngle":0}},"y":{"field":"lo","type":"quantitative","scale":{"domain":[3.42,7.45],"nice":false,"zero":false},"axis":{"title":"CD4 expression","values":[4,5,6,7]}},"y2":{"field":"q1"},"color":{"field":"g","type":"nominal","scale":{"domain":["control","RA"],"range":["#3B4992","#EE0000"]},"legend":{"legendX":58.5}}}},
    {"data":{"name":"box"},"transform":[{"filter":"datum.p=='A1'"}],"mark":{"type":"rule","strokeWidth":0.8},"encoding":{"x":{"field":"g","type":"nominal"},"y":{"field":"q3","type":"quantitative"},"y2":{"field":"hi"},"color":{"field":"g","type":"nominal"}}},
    {"data":{"name":"box"},"transform":[{"filter":"datum.p=='A1'"}],"mark":{"type":"bar","filled":false,"strokeWidth":0.8,"width":{"band":0.7}},"encoding":{"x":{"field":"g","type":"nominal"},"y":{"field":"q1","type":"quantitative"},"y2":{"field":"q3"},"color":{"field":"g","type":"nominal"}}},
    {"data":{"name":"box"},"transform":[{"filter":"datum.p=='A1'"}],"mark":{"type":"bar","filled":false,"strokeWidth":1.4,"width":{"band":0.7}},"encoding":{"x":{"field":"g","type":"nominal"},"y":{"field":"med","type":"quantitative"},"y2":{"field":"med"},"color":{"field":"g","type":"nominal"}}},
    {"data":{"name":"A1"},"mark":{"type":"circle","size":9,"opacity":1},"encoding":{"x":{"field":"g","type":"nominal"},"xOffset":{"field":"j","type":"quantitative","scale":{"domain":[-0.5,0.5]}},"y":{"field":"v","type":"quantitative"},"color":{"field":"g","type":"nominal"}}},
    {"data":{"name":"brk"},"transform":[{"filter":"datum.p=='A1'"}],"mark":{"type":"line","color":"#555","strokeWidth":0.7},"encoding":{"x":{"field":"g","type":"nominal"},"y":{"field":"v","type":"quantitative"},"order":{"field":"o","type":"quantitative"}}},
    {"data":{"name":"lab"},"transform":[{"filter":"datum.p=='A1'"}],"mark":{"type":"text","fontSize":6,"baseline":"bottom","dy":-1,"color":"#333"},"encoding":{"x":{"field":"g","type":"nominal","bandPosition":1},"y":{"field":"v","type":"quantitative"},"text":{"field":"t"}}}
   ]},
   {"width":165,"height":123,"resolve":{"scale":{"xOffset":"independent"}},"layer":[
    {"data":{"name":"box"},"transform":[{"filter":"datum.p=='A2'"}],"mark":{"type":"rule","strokeWidth":0.8},"encoding":{"x":{"field":"g","type":"nominal","scale":{"type":"band","domain":["control","PTC"],"paddingInner":0,"paddingOuter":0.1},"axis":{"title":null,"labelAngle":0}},"y":{"field":"lo","type":"quantitative","scale":{"domain":[6.27,9.71],"nice":false,"zero":false},"axis":{"title":"CD4 expression","values":[7,8,9]}},"y2":{"field":"q1"},"color":{"field":"g","type":"nominal","scale":{"domain":["control","PTC"],"range":["#3B4992","#EE0000"]},"legend":{"legendX":56.5}}}},
    {"data":{"name":"box"},"transform":[{"filter":"datum.p=='A2'"}],"mark":{"type":"rule","strokeWidth":0.8},"encoding":{"x":{"field":"g","type":"nominal"},"y":{"field":"q3","type":"quantitative"},"y2":{"field":"hi"},"color":{"field":"g","type":"nominal"}}},
    {"data":{"name":"box"},"transform":[{"filter":"datum.p=='A2'"}],"mark":{"type":"bar","filled":false,"strokeWidth":0.8,"width":{"band":0.7}},"encoding":{"x":{"field":"g","type":"nominal"},"y":{"field":"q1","type":"quantitative"},"y2":{"field":"q3"},"color":{"field":"g","type":"nominal"}}},
    {"data":{"name":"box"},"transform":[{"filter":"datum.p=='A2'"}],"mark":{"type":"bar","filled":false,"strokeWidth":1.4,"width":{"band":0.7}},"encoding":{"x":{"field":"g","type":"nominal"},"y":{"field":"med","type":"quantitative"},"y2":{"field":"med"},"color":{"field":"g","type":"nominal"}}},
    {"data":{"name":"A2"},"mark":{"type":"circle","size":9,"opacity":1},"encoding":{"x":{"field":"g","type":"nominal"},"xOffset":{"field":"j","type":"quantitative","scale":{"domain":[-0.5,0.5]}},"y":{"field":"v","type":"quantitative"},"color":{"field":"g","type":"nominal"}}},
    {"data":{"name":"brk"},"transform":[{"filter":"datum.p=='A2'"}],"mark":{"type":"line","color":"#555","strokeWidth":0.7},"encoding":{"x":{"field":"g","type":"nominal"},"y":{"field":"v","type":"quantitative"},"order":{"field":"o","type":"quantitative"}}},
    {"data":{"name":"lab"},"transform":[{"filter":"datum.p=='A2'"}],"mark":{"type":"text","fontSize":6,"baseline":"bottom","dy":-1,"color":"#333"},"encoding":{"x":{"field":"g","type":"nominal","bandPosition":1},"y":{"field":"v","type":"quantitative"},"text":{"field":"t"}}}
   ]}
  ],"spacing":20.5,"resolve":{"scale":{"x":"independent","y":"independent","color":"independent"},"legend":{"color":"independent"}}},
  {"title":{"text":"B","dx":-33,"offset":10},"hconcat":[
   {"width":154,"height":123,"resolve":{"scale":{"xOffset":"independent"}},"layer":[
    {"data":{"name":"box"},"transform":[{"filter":"datum.p=='B1'"}],"mark":{"type":"rule","strokeWidth":0.8},"encoding":{"x":{"field":"g","type":"nominal","scale":{"type":"band","domain":["control","RA"],"paddingInner":0,"paddingOuter":0.1},"axis":{"title":null,"labelAngle":0}},"y":{"field":"lo","type":"quantitative","scale":{"domain":[0.14,10.51],"nice":false,"zero":false},"axis":{"title":"CXCL13 expression","values":[2.5,5,7.5,10],"format":".1f"}},"y2":{"field":"q1"},"color":{"field":"g","type":"nominal","scale":{"domain":["control","RA"],"range":["#3B4992","#EE0000"]},"legend":{"legendX":53}}}},
    {"data":{"name":"box"},"transform":[{"filter":"datum.p=='B1'"}],"mark":{"type":"rule","strokeWidth":0.8},"encoding":{"x":{"field":"g","type":"nominal"},"y":{"field":"q3","type":"quantitative"},"y2":{"field":"hi"},"color":{"field":"g","type":"nominal"}}},
    {"data":{"name":"box"},"transform":[{"filter":"datum.p=='B1'"}],"mark":{"type":"bar","filled":false,"strokeWidth":0.8,"width":{"band":0.7}},"encoding":{"x":{"field":"g","type":"nominal"},"y":{"field":"q1","type":"quantitative"},"y2":{"field":"q3"},"color":{"field":"g","type":"nominal"}}},
    {"data":{"name":"box"},"transform":[{"filter":"datum.p=='B1'"}],"mark":{"type":"bar","filled":false,"strokeWidth":1.4,"width":{"band":0.7}},"encoding":{"x":{"field":"g","type":"nominal"},"y":{"field":"med","type":"quantitative"},"y2":{"field":"med"},"color":{"field":"g","type":"nominal"}}},
    {"data":{"name":"B1"},"mark":{"type":"circle","size":9,"opacity":1},"encoding":{"x":{"field":"g","type":"nominal"},"xOffset":{"field":"j","type":"quantitative","scale":{"domain":[-0.5,0.5]}},"y":{"field":"v","type":"quantitative"},"color":{"field":"g","type":"nominal"}}},
    {"data":{"name":"brk"},"transform":[{"filter":"datum.p=='B1'"}],"mark":{"type":"line","color":"#555","strokeWidth":0.7},"encoding":{"x":{"field":"g","type":"nominal"},"y":{"field":"v","type":"quantitative"},"order":{"field":"o","type":"quantitative"}}},
    {"data":{"name":"lab"},"transform":[{"filter":"datum.p=='B1'"}],"mark":{"type":"text","fontSize":6,"baseline":"bottom","dy":-1,"color":"#333"},"encoding":{"x":{"field":"g","type":"nominal","bandPosition":1},"y":{"field":"v","type":"quantitative"},"text":{"field":"t"}}}
   ]},
   {"width":156,"height":123,"resolve":{"scale":{"xOffset":"independent"}},"layer":[
    {"data":{"name":"box"},"transform":[{"filter":"datum.p=='B2'"}],"mark":{"type":"rule","strokeWidth":0.8},"encoding":{"x":{"field":"g","type":"nominal","scale":{"type":"band","domain":["control","PTC"],"paddingInner":0,"paddingOuter":0.1},"axis":{"title":null,"labelAngle":0}},"y":{"field":"lo","type":"quantitative","scale":{"domain":[2.59,13.67],"nice":false,"zero":false},"axis":{"title":"CXCL13 expression","values":[5,7.5,10,12.5],"format":".1f"}},"y2":{"field":"q1"},"color":{"field":"g","type":"nominal","scale":{"domain":["control","PTC"],"range":["#3B4992","#EE0000"]},"legend":{"legendX":52}}}},
    {"data":{"name":"box"},"transform":[{"filter":"datum.p=='B2'"}],"mark":{"type":"rule","strokeWidth":0.8},"encoding":{"x":{"field":"g","type":"nominal"},"y":{"field":"q3","type":"quantitative"},"y2":{"field":"hi"},"color":{"field":"g","type":"nominal"}}},
    {"data":{"name":"box"},"transform":[{"filter":"datum.p=='B2'"}],"mark":{"type":"bar","filled":false,"strokeWidth":0.8,"width":{"band":0.7}},"encoding":{"x":{"field":"g","type":"nominal"},"y":{"field":"q1","type":"quantitative"},"y2":{"field":"q3"},"color":{"field":"g","type":"nominal"}}},
    {"data":{"name":"box"},"transform":[{"filter":"datum.p=='B2'"}],"mark":{"type":"bar","filled":false,"strokeWidth":1.4,"width":{"band":0.7}},"encoding":{"x":{"field":"g","type":"nominal"},"y":{"field":"med","type":"quantitative"},"y2":{"field":"med"},"color":{"field":"g","type":"nominal"}}},
    {"data":{"name":"B2"},"mark":{"type":"circle","size":9,"opacity":1},"encoding":{"x":{"field":"g","type":"nominal"},"xOffset":{"field":"j","type":"quantitative","scale":{"domain":[-0.5,0.5]}},"y":{"field":"v","type":"quantitative"},"color":{"field":"g","type":"nominal"}}},
    {"data":{"name":"brk"},"transform":[{"filter":"datum.p=='B2'"}],"mark":{"type":"line","color":"#555","strokeWidth":0.7},"encoding":{"x":{"field":"g","type":"nominal"},"y":{"field":"v","type":"quantitative"},"order":{"field":"o","type":"quantitative"}}},
    {"data":{"name":"lab"},"transform":[{"filter":"datum.p=='B2'"}],"mark":{"type":"text","fontSize":6,"baseline":"bottom","dy":-1,"color":"#333"},"encoding":{"x":{"field":"g","type":"nominal","bandPosition":1},"y":{"field":"v","type":"quantitative"},"text":{"field":"t"}}}
   ]}
  ],"spacing":25,"resolve":{"scale":{"x":"independent","y":"independent","color":"independent"},"legend":{"color":"independent"}}}
 ],"spacing":11,"resolve":{"scale":{"x":"independent","y":"independent","color":"independent"},"legend":{"color":"independent"}}},
 {"hconcat":[
  {"title":{"text":"C","dx":-28,"offset":7},"hconcat":[
   {"width":167,"height":123,"resolve":{"scale":{"xOffset":"independent"}},"layer":[
    {"data":{"name":"box"},"transform":[{"filter":"datum.p=='C1'"}],"mark":{"type":"rule","strokeWidth":0.8},"encoding":{"x":{"field":"g","type":"nominal","scale":{"type":"band","domain":["control","RA"],"paddingInner":0,"paddingOuter":0.1},"axis":{"title":null,"labelAngle":0}},"y":{"field":"lo","type":"quantitative","scale":{"domain":[3.33,8.21],"nice":false,"zero":false},"axis":{"title":"TOP2A expression","values":[4,5,6,7,8]}},"y2":{"field":"q1"},"color":{"field":"g","type":"nominal","scale":{"domain":["control","RA"],"range":["#3B4992","#EE0000"]},"legend":{"legendX":59.5}}}},
    {"data":{"name":"box"},"transform":[{"filter":"datum.p=='C1'"}],"mark":{"type":"rule","strokeWidth":0.8},"encoding":{"x":{"field":"g","type":"nominal"},"y":{"field":"q3","type":"quantitative"},"y2":{"field":"hi"},"color":{"field":"g","type":"nominal"}}},
    {"data":{"name":"box"},"transform":[{"filter":"datum.p=='C1'"}],"mark":{"type":"bar","filled":false,"strokeWidth":0.8,"width":{"band":0.7}},"encoding":{"x":{"field":"g","type":"nominal"},"y":{"field":"q1","type":"quantitative"},"y2":{"field":"q3"},"color":{"field":"g","type":"nominal"}}},
    {"data":{"name":"box"},"transform":[{"filter":"datum.p=='C1'"}],"mark":{"type":"bar","filled":false,"strokeWidth":1.4,"width":{"band":0.7}},"encoding":{"x":{"field":"g","type":"nominal"},"y":{"field":"med","type":"quantitative"},"y2":{"field":"med"},"color":{"field":"g","type":"nominal"}}},
    {"data":{"name":"C1"},"mark":{"type":"circle","size":9,"opacity":1},"encoding":{"x":{"field":"g","type":"nominal"},"xOffset":{"field":"j","type":"quantitative","scale":{"domain":[-0.5,0.5]}},"y":{"field":"v","type":"quantitative"},"color":{"field":"g","type":"nominal"}}},
    {"data":{"name":"brk"},"transform":[{"filter":"datum.p=='C1'"}],"mark":{"type":"line","color":"#555","strokeWidth":0.7},"encoding":{"x":{"field":"g","type":"nominal"},"y":{"field":"v","type":"quantitative"},"order":{"field":"o","type":"quantitative"}}},
    {"data":{"name":"lab"},"transform":[{"filter":"datum.p=='C1'"}],"mark":{"type":"text","fontSize":6,"baseline":"bottom","dy":-1,"color":"#333"},"encoding":{"x":{"field":"g","type":"nominal","bandPosition":1},"y":{"field":"v","type":"quantitative"},"text":{"field":"t"}}}
   ]},
   {"width":167,"height":123,"resolve":{"scale":{"xOffset":"independent"}},"layer":[
    {"data":{"name":"box"},"transform":[{"filter":"datum.p=='C2'"}],"mark":{"type":"rule","strokeWidth":0.8},"encoding":{"x":{"field":"g","type":"nominal","scale":{"type":"band","domain":["control","PTC"],"paddingInner":0,"paddingOuter":0.1},"axis":{"title":null,"labelAngle":0}},"y":{"field":"lo","type":"quantitative","scale":{"domain":[3.61,9.46],"nice":false,"zero":false},"axis":{"title":"TOP2A expression","values":[4,5,6,7,8,9]}},"y2":{"field":"q1"},"color":{"field":"g","type":"nominal","scale":{"domain":["control","PTC"],"range":["#3B4992","#EE0000"]},"legend":{"legendX":57.5}}}},
    {"data":{"name":"box"},"transform":[{"filter":"datum.p=='C2'"}],"mark":{"type":"rule","strokeWidth":0.8},"encoding":{"x":{"field":"g","type":"nominal"},"y":{"field":"q3","type":"quantitative"},"y2":{"field":"hi"},"color":{"field":"g","type":"nominal"}}},
    {"data":{"name":"box"},"transform":[{"filter":"datum.p=='C2'"}],"mark":{"type":"bar","filled":false,"strokeWidth":0.8,"width":{"band":0.7}},"encoding":{"x":{"field":"g","type":"nominal"},"y":{"field":"q1","type":"quantitative"},"y2":{"field":"q3"},"color":{"field":"g","type":"nominal"}}},
    {"data":{"name":"box"},"transform":[{"filter":"datum.p=='C2'"}],"mark":{"type":"bar","filled":false,"strokeWidth":1.4,"width":{"band":0.7}},"encoding":{"x":{"field":"g","type":"nominal"},"y":{"field":"med","type":"quantitative"},"y2":{"field":"med"},"color":{"field":"g","type":"nominal"}}},
    {"data":{"name":"C2"},"mark":{"type":"circle","size":9,"opacity":1},"encoding":{"x":{"field":"g","type":"nominal"},"xOffset":{"field":"j","type":"quantitative","scale":{"domain":[-0.5,0.5]}},"y":{"field":"v","type":"quantitative"},"color":{"field":"g","type":"nominal"}}},
    {"data":{"name":"brk"},"transform":[{"filter":"datum.p=='C2'"}],"mark":{"type":"line","color":"#555","strokeWidth":0.7},"encoding":{"x":{"field":"g","type":"nominal"},"y":{"field":"v","type":"quantitative"},"order":{"field":"o","type":"quantitative"}}},
    {"data":{"name":"lab"},"transform":[{"filter":"datum.p=='C2'"}],"mark":{"type":"text","fontSize":6,"baseline":"bottom","dy":-1,"color":"#333"},"encoding":{"x":{"field":"g","type":"nominal","bandPosition":1},"y":{"field":"v","type":"quantitative"},"text":{"field":"t"}}}
   ]}
  ],"spacing":25.5,"resolve":{"scale":{"x":"independent","y":"independent","color":"independent"},"legend":{"color":"independent"}}},
  {"title":{"text":"D","dx":-30,"offset":7},"hconcat":[
   {"width":165,"height":123,"resolve":{"scale":{"xOffset":"independent"}},"layer":[
    {"data":{"name":"box"},"transform":[{"filter":"datum.p=='D1'"}],"mark":{"type":"rule","strokeWidth":0.8},"encoding":{"x":{"field":"g","type":"nominal","scale":{"type":"band","domain":["control","RA"],"paddingInner":0,"paddingOuter":0.1},"axis":{"title":null,"labelAngle":0}},"y":{"field":"lo","type":"quantitative","scale":{"domain":[3.78,9.68],"nice":false,"zero":false},"axis":{"title":"RRM2 expression","values":[4,6,8]}},"y2":{"field":"q1"},"color":{"field":"g","type":"nominal","scale":{"domain":["control","RA"],"range":["#3B4992","#EE0000"]},"legend":{"legendX":58.5}}}},
    {"data":{"name":"box"},"transform":[{"filter":"datum.p=='D1'"}],"mark":{"type":"rule","strokeWidth":0.8},"encoding":{"x":{"field":"g","type":"nominal"},"y":{"field":"q3","type":"quantitative"},"y2":{"field":"hi"},"color":{"field":"g","type":"nominal"}}},
    {"data":{"name":"box"},"transform":[{"filter":"datum.p=='D1'"}],"mark":{"type":"bar","filled":false,"strokeWidth":0.8,"width":{"band":0.7}},"encoding":{"x":{"field":"g","type":"nominal"},"y":{"field":"q1","type":"quantitative"},"y2":{"field":"q3"},"color":{"field":"g","type":"nominal"}}},
    {"data":{"name":"box"},"transform":[{"filter":"datum.p=='D1'"}],"mark":{"type":"bar","filled":false,"strokeWidth":1.4,"width":{"band":0.7}},"encoding":{"x":{"field":"g","type":"nominal"},"y":{"field":"med","type":"quantitative"},"y2":{"field":"med"},"color":{"field":"g","type":"nominal"}}},
    {"data":{"name":"D1"},"mark":{"type":"circle","size":9,"opacity":1},"encoding":{"x":{"field":"g","type":"nominal"},"xOffset":{"field":"j","type":"quantitative","scale":{"domain":[-0.5,0.5]}},"y":{"field":"v","type":"quantitative"},"color":{"field":"g","type":"nominal"}}},
    {"data":{"name":"brk"},"transform":[{"filter":"datum.p=='D1'"}],"mark":{"type":"line","color":"#555","strokeWidth":0.7},"encoding":{"x":{"field":"g","type":"nominal"},"y":{"field":"v","type":"quantitative"},"order":{"field":"o","type":"quantitative"}}},
    {"data":{"name":"lab"},"transform":[{"filter":"datum.p=='D1'"}],"mark":{"type":"text","fontSize":6,"baseline":"bottom","dy":-1,"color":"#333"},"encoding":{"x":{"field":"g","type":"nominal","bandPosition":1},"y":{"field":"v","type":"quantitative"},"text":{"field":"t"}}}
   ]},
   {"width":147,"height":123,"resolve":{"scale":{"xOffset":"independent"}},"layer":[
    {"data":{"name":"box"},"transform":[{"filter":"datum.p=='D2'"}],"mark":{"type":"rule","strokeWidth":0.8},"encoding":{"x":{"field":"g","type":"nominal","scale":{"type":"band","domain":["control","PTC"],"paddingInner":0,"paddingOuter":0.1},"axis":{"title":null,"labelAngle":0}},"y":{"field":"lo","type":"quantitative","scale":{"domain":[4.02,11.85],"nice":false,"zero":false},"axis":{"title":"RRM2 expression","values":[6,8,10]}},"y2":{"field":"q1"},"color":{"field":"g","type":"nominal","scale":{"domain":["control","PTC"],"range":["#3B4992","#EE0000"]},"legend":{"legendX":47.5}}}},
    {"data":{"name":"box"},"transform":[{"filter":"datum.p=='D2'"}],"mark":{"type":"rule","strokeWidth":0.8},"encoding":{"x":{"field":"g","type":"nominal"},"y":{"field":"q3","type":"quantitative"},"y2":{"field":"hi"},"color":{"field":"g","type":"nominal"}}},
    {"data":{"name":"box"},"transform":[{"filter":"datum.p=='D2'"}],"mark":{"type":"bar","filled":false,"strokeWidth":0.8,"width":{"band":0.7}},"encoding":{"x":{"field":"g","type":"nominal"},"y":{"field":"q1","type":"quantitative"},"y2":{"field":"q3"},"color":{"field":"g","type":"nominal"}}},
    {"data":{"name":"box"},"transform":[{"filter":"datum.p=='D2'"}],"mark":{"type":"bar","filled":false,"strokeWidth":1.4,"width":{"band":0.7}},"encoding":{"x":{"field":"g","type":"nominal"},"y":{"field":"med","type":"quantitative"},"y2":{"field":"med"},"color":{"field":"g","type":"nominal"}}},
    {"data":{"name":"D2"},"mark":{"type":"circle","size":9,"opacity":1},"encoding":{"x":{"field":"g","type":"nominal"},"xOffset":{"field":"j","type":"quantitative","scale":{"domain":[-0.5,0.5]}},"y":{"field":"v","type":"quantitative"},"color":{"field":"g","type":"nominal"}}},
    {"data":{"name":"brk"},"transform":[{"filter":"datum.p=='D2'"}],"mark":{"type":"line","color":"#555","strokeWidth":0.7},"encoding":{"x":{"field":"g","type":"nominal"},"y":{"field":"v","type":"quantitative"},"order":{"field":"o","type":"quantitative"}}},
    {"data":{"name":"lab"},"transform":[{"filter":"datum.p=='D2'"}],"mark":{"type":"text","fontSize":6,"baseline":"bottom","dy":-1,"color":"#333"},"encoding":{"x":{"field":"g","type":"nominal","bandPosition":1},"y":{"field":"v","type":"quantitative"},"text":{"field":"t"}}}
   ]}
  ],"spacing":39.3,"resolve":{"scale":{"x":"independent","y":"independent","color":"independent"},"legend":{"color":"independent"}}}
 ],"spacing":5,"resolve":{"scale":{"x":"independent","y":"independent","color":"independent"},"legend":{"color":"independent"}}}
],"spacing":21.5,"resolve":{"scale":{"x":"independent","y":"independent","color":"independent"},"legend":{"color":"independent"}}},
{"hconcat":[
  {"title":{"text":"E","dx":-28,"offset":11},"hconcat":[
   {"width":165,"height":123,"resolve":{"scale":{"xOffset":"independent"}},"layer":[
    {"data":{"name":"box"},"transform":[{"filter":"datum.p=='E1'"}],"mark":{"type":"rule","strokeWidth":0.8},"encoding":{"x":{"field":"g","type":"nominal","scale":{"type":"band","domain":["control","RA"],"paddingInner":0,"paddingOuter":0.1},"axis":{"title":null,"labelAngle":0}},"y":{"field":"lo","type":"quantitative","scale":{"domain":[2.51,6.9],"nice":false,"zero":false},"axis":{"title":"CXCL11 expression","values":[3,4,5,6]}},"y2":{"field":"q1"},"color":{"field":"g","type":"nominal","scale":{"domain":["control","RA"],"range":["#3B4992","#EE0000"]},"legend":{"legendX":58.5}}}},
    {"data":{"name":"box"},"transform":[{"filter":"datum.p=='E1'"}],"mark":{"type":"rule","strokeWidth":0.8},"encoding":{"x":{"field":"g","type":"nominal"},"y":{"field":"q3","type":"quantitative"},"y2":{"field":"hi"},"color":{"field":"g","type":"nominal"}}},
    {"data":{"name":"box"},"transform":[{"filter":"datum.p=='E1'"}],"mark":{"type":"bar","filled":false,"strokeWidth":0.8,"width":{"band":0.7}},"encoding":{"x":{"field":"g","type":"nominal"},"y":{"field":"q1","type":"quantitative"},"y2":{"field":"q3"},"color":{"field":"g","type":"nominal"}}},
    {"data":{"name":"box"},"transform":[{"filter":"datum.p=='E1'"}],"mark":{"type":"bar","filled":false,"strokeWidth":1.4,"width":{"band":0.7}},"encoding":{"x":{"field":"g","type":"nominal"},"y":{"field":"med","type":"quantitative"},"y2":{"field":"med"},"color":{"field":"g","type":"nominal"}}},
    {"data":{"name":"E1"},"mark":{"type":"circle","size":9,"opacity":1},"encoding":{"x":{"field":"g","type":"nominal"},"xOffset":{"field":"j","type":"quantitative","scale":{"domain":[-0.5,0.5]}},"y":{"field":"v","type":"quantitative"},"color":{"field":"g","type":"nominal"}}},
    {"data":{"name":"brk"},"transform":[{"filter":"datum.p=='E1'"}],"mark":{"type":"line","color":"#555","strokeWidth":0.7},"encoding":{"x":{"field":"g","type":"nominal"},"y":{"field":"v","type":"quantitative"},"order":{"field":"o","type":"quantitative"}}},
    {"data":{"name":"lab"},"transform":[{"filter":"datum.p=='E1'"}],"mark":{"type":"text","fontSize":6,"baseline":"bottom","dy":-1,"color":"#333"},"encoding":{"x":{"field":"g","type":"nominal","bandPosition":1},"y":{"field":"v","type":"quantitative"},"text":{"field":"t"}}}
   ]},
   {"width":167,"height":123,"resolve":{"scale":{"xOffset":"independent"}},"layer":[
    {"data":{"name":"box"},"transform":[{"filter":"datum.p=='E2'"}],"mark":{"type":"rule","strokeWidth":0.8},"encoding":{"x":{"field":"g","type":"nominal","scale":{"type":"band","domain":["control","PTC"],"paddingInner":0,"paddingOuter":0.1},"axis":{"title":null,"labelAngle":0}},"y":{"field":"lo","type":"quantitative","scale":{"domain":[2.3,9.33],"nice":false,"zero":false},"axis":{"title":"CXCL11 expression","values":[4,6,8]}},"y2":{"field":"q1"},"color":{"field":"g","type":"nominal","scale":{"domain":["control","PTC"],"range":["#3B4992","#EE0000"]},"legend":{"legendX":57.5}}}},
    {"data":{"name":"box"},"transform":[{"filter":"datum.p=='E2'"}],"mark":{"type":"rule","strokeWidth":0.8},"encoding":{"x":{"field":"g","type":"nominal"},"y":{"field":"q3","type":"quantitative"},"y2":{"field":"hi"},"color":{"field":"g","type":"nominal"}}},
    {"data":{"name":"box"},"transform":[{"filter":"datum.p=='E2'"}],"mark":{"type":"bar","filled":false,"strokeWidth":0.8,"width":{"band":0.7}},"encoding":{"x":{"field":"g","type":"nominal"},"y":{"field":"q1","type":"quantitative"},"y2":{"field":"q3"},"color":{"field":"g","type":"nominal"}}},
    {"data":{"name":"box"},"transform":[{"filter":"datum.p=='E2'"}],"mark":{"type":"bar","filled":false,"strokeWidth":1.4,"width":{"band":0.7}},"encoding":{"x":{"field":"g","type":"nominal"},"y":{"field":"med","type":"quantitative"},"y2":{"field":"med"},"color":{"field":"g","type":"nominal"}}},
    {"data":{"name":"E2"},"mark":{"type":"circle","size":9,"opacity":1},"encoding":{"x":{"field":"g","type":"nominal"},"xOffset":{"field":"j","type":"quantitative","scale":{"domain":[-0.5,0.5]}},"y":{"field":"v","type":"quantitative"},"color":{"field":"g","type":"nominal"}}},
    {"data":{"name":"brk"},"transform":[{"filter":"datum.p=='E2'"}],"mark":{"type":"line","color":"#555","strokeWidth":0.7},"encoding":{"x":{"field":"g","type":"nominal"},"y":{"field":"v","type":"quantitative"},"order":{"field":"o","type":"quantitative"}}},
    {"data":{"name":"lab"},"transform":[{"filter":"datum.p=='E2'"}],"mark":{"type":"text","fontSize":6,"baseline":"bottom","dy":-1,"color":"#333"},"encoding":{"x":{"field":"g","type":"nominal","bandPosition":1},"y":{"field":"v","type":"quantitative"},"text":{"field":"t"}}}
   ]}
  ],"spacing":21.5,"resolve":{"scale":{"x":"independent","y":"independent","color":"independent"},"legend":{"color":"independent"}}},
  {"title":{"text":"F","dx":-22,"offset":11},"hconcat":[
   {"width":165,"height":123,"resolve":{"scale":{"xOffset":"independent"}},"layer":[
    {"data":{"name":"box"},"transform":[{"filter":"datum.p=='F1'"}],"mark":{"type":"rule","strokeWidth":0.8},"encoding":{"x":{"field":"g","type":"nominal","scale":{"type":"band","domain":["control","RA"],"paddingInner":0,"paddingOuter":0.1},"axis":{"title":null,"labelAngle":0}},"y":{"field":"lo","type":"quantitative","scale":{"domain":[3.6,7.09],"nice":false,"zero":false},"axis":{"title":"IL6 expression","values":[4,5,6,7]}},"y2":{"field":"q1"},"color":{"field":"g","type":"nominal","scale":{"domain":["control","RA"],"range":["#3B4992","#EE0000"]},"legend":{"legendX":58.5}}}},
    {"data":{"name":"box"},"transform":[{"filter":"datum.p=='F1'"}],"mark":{"type":"rule","strokeWidth":0.8},"encoding":{"x":{"field":"g","type":"nominal"},"y":{"field":"q3","type":"quantitative"},"y2":{"field":"hi"},"color":{"field":"g","type":"nominal"}}},
    {"data":{"name":"box"},"transform":[{"filter":"datum.p=='F1'"}],"mark":{"type":"bar","filled":false,"strokeWidth":0.8,"width":{"band":0.7}},"encoding":{"x":{"field":"g","type":"nominal"},"y":{"field":"q1","type":"quantitative"},"y2":{"field":"q3"},"color":{"field":"g","type":"nominal"}}},
    {"data":{"name":"box"},"transform":[{"filter":"datum.p=='F1'"}],"mark":{"type":"bar","filled":false,"strokeWidth":1.4,"width":{"band":0.7}},"encoding":{"x":{"field":"g","type":"nominal"},"y":{"field":"med","type":"quantitative"},"y2":{"field":"med"},"color":{"field":"g","type":"nominal"}}},
    {"data":{"name":"F1"},"mark":{"type":"circle","size":9,"opacity":1},"encoding":{"x":{"field":"g","type":"nominal"},"xOffset":{"field":"j","type":"quantitative","scale":{"domain":[-0.5,0.5]}},"y":{"field":"v","type":"quantitative"},"color":{"field":"g","type":"nominal"}}},
    {"data":{"name":"brk"},"transform":[{"filter":"datum.p=='F1'"}],"mark":{"type":"line","color":"#555","strokeWidth":0.7},"encoding":{"x":{"field":"g","type":"nominal"},"y":{"field":"v","type":"quantitative"},"order":{"field":"o","type":"quantitative"}}},
    {"data":{"name":"lab"},"transform":[{"filter":"datum.p=='F1'"}],"mark":{"type":"text","fontSize":6,"baseline":"bottom","dy":-1,"color":"#333"},"encoding":{"x":{"field":"g","type":"nominal","bandPosition":1},"y":{"field":"v","type":"quantitative"},"text":{"field":"t"}}}
   ]},
   {"width":165,"height":123,"resolve":{"scale":{"xOffset":"independent"}},"layer":[
    {"data":{"name":"box"},"transform":[{"filter":"datum.p=='F2'"}],"mark":{"type":"rule","strokeWidth":0.8},"encoding":{"x":{"field":"g","type":"nominal","scale":{"type":"band","domain":["control","PTC"],"paddingInner":0,"paddingOuter":0.1},"axis":{"title":null,"labelAngle":0}},"y":{"field":"lo","type":"quantitative","scale":{"domain":[5.16,8.22],"nice":false,"zero":false},"axis":{"title":"IL8 expression","values":[6,7,8]}},"y2":{"field":"q1"},"color":{"field":"g","type":"nominal","scale":{"domain":["control","PTC"],"range":["#3B4992","#EE0000"]},"legend":{"legendX":56.5}}}},
    {"data":{"name":"box"},"transform":[{"filter":"datum.p=='F2'"}],"mark":{"type":"rule","strokeWidth":0.8},"encoding":{"x":{"field":"g","type":"nominal"},"y":{"field":"q3","type":"quantitative"},"y2":{"field":"hi"},"color":{"field":"g","type":"nominal"}}},
    {"data":{"name":"box"},"transform":[{"filter":"datum.p=='F2'"}],"mark":{"type":"bar","filled":false,"strokeWidth":0.8,"width":{"band":0.7}},"encoding":{"x":{"field":"g","type":"nominal"},"y":{"field":"q1","type":"quantitative"},"y2":{"field":"q3"},"color":{"field":"g","type":"nominal"}}},
    {"data":{"name":"box"},"transform":[{"filter":"datum.p=='F2'"}],"mark":{"type":"bar","filled":false,"strokeWidth":1.4,"width":{"band":0.7}},"encoding":{"x":{"field":"g","type":"nominal"},"y":{"field":"med","type":"quantitative"},"y2":{"field":"med"},"color":{"field":"g","type":"nominal"}}},
    {"data":{"name":"F2"},"mark":{"type":"circle","size":9,"opacity":1},"encoding":{"x":{"field":"g","type":"nominal"},"xOffset":{"field":"j","type":"quantitative","scale":{"domain":[-0.5,0.5]}},"y":{"field":"v","type":"quantitative"},"color":{"field":"g","type":"nominal"}}},
    {"data":{"name":"brk"},"transform":[{"filter":"datum.p=='F2'"}],"mark":{"type":"line","color":"#555","strokeWidth":0.7},"encoding":{"x":{"field":"g","type":"nominal"},"y":{"field":"v","type":"quantitative"},"order":{"field":"o","type":"quantitative"}}},
    {"data":{"name":"lab"},"transform":[{"filter":"datum.p=='F2'"}],"mark":{"type":"text","fontSize":6,"baseline":"bottom","dy":-1,"color":"#333"},"encoding":{"x":{"field":"g","type":"nominal","bandPosition":1},"y":{"field":"v","type":"quantitative"},"text":{"field":"t"}}}
   ]}
  ],"spacing":22.5,"resolve":{"scale":{"x":"independent","y":"independent","color":"independent"},"legend":{"color":"independent"}}}
 ],"spacing":11,"resolve":{"scale":{"x":"independent","y":"independent","color":"independent"},"legend":{"color":"independent"}}}
],
"spacing":28.5,
"resolve":{"scale":{"x":"independent","y":"independent","color":"independent"},"legend":{"color":"independent"}}
}
